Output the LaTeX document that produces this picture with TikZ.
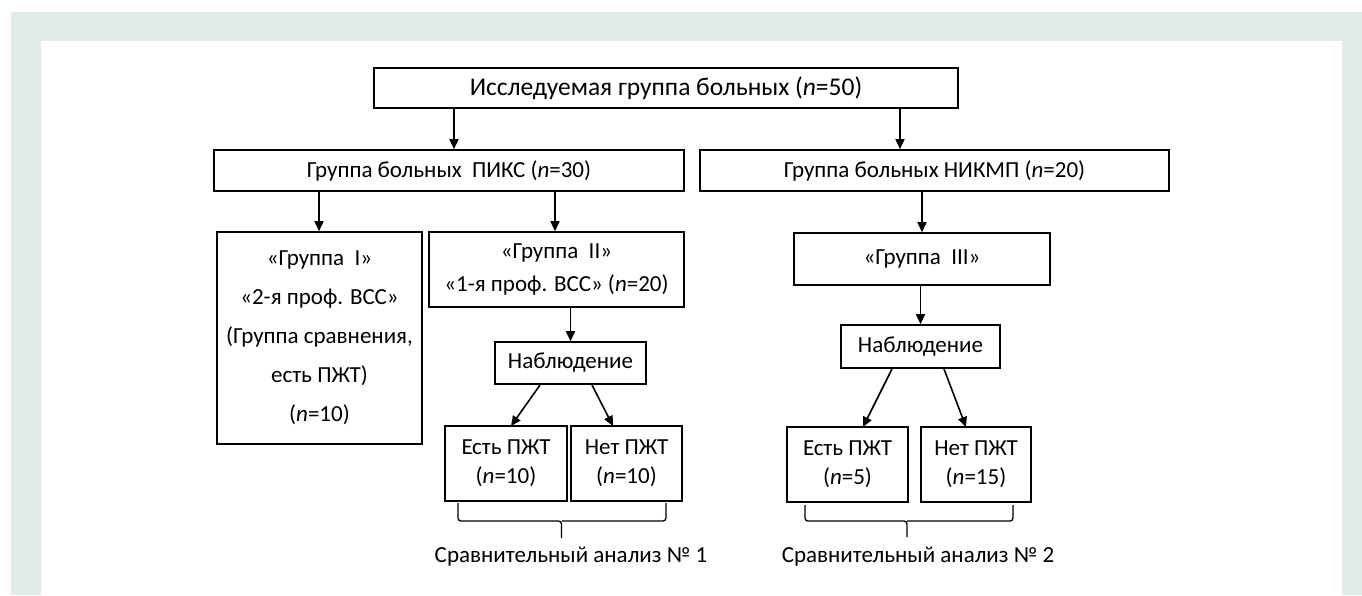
\documentclass[tikz,border=0pt]{standalone}
\usepackage{fontspec}
\setmainfont{Carlito}
\usetikzlibrary{arrows.meta}
\definecolor{frame}{RGB}{226,235,234}
\tikzset{
  box/.style={draw=black, line width=1.6pt, rectangle, inner sep=0pt, align=center,
    font=\fontsize{23}{27}\selectfont},
  arr/.style={line width=1.6pt, -{Triangle[length=10pt,width=9pt]}},
  brace/.style={line width=1.3pt, rounded corners=3pt},
  lbl/.style={inner sep=0pt, font=\fontsize{23}{27}\selectfont}
}
\begin{document}
\begin{tikzpicture}[x=1pt,y=-1pt]
\useasboundingbox (0,0) rectangle (1362,595);
\fill[frame] (11,12) rectangle (1362,595);
\fill[white] (41,41) rectangle (1342,595);

\node[box, minimum width=584pt, minimum height=40pt, font=\fontsize{25.5}{29}\selectfont] (top) at (666,88) {Исследуемая группа больных (\textit{n}=50)};
\node[box, minimum width=470pt, minimum height=41pt] (piks) at (449,170.5) {Группа больных\ \ ПИКС (\textit{n}=30)};
\node[box, minimum width=469pt, minimum height=41pt] (nikmp) at (934.5,170.5) {Группа больных НИКМП (\textit{n}=20)};

\node[box, minimum width=205pt, minimum height=212pt, font=\fontsize{23}{39}\selectfont] (g1) at (319.5,338) {«Группа\ \ I»\\«2-я проф. ВСС»\\(Группа сравнения,\\есть ПЖТ)\\(\textit{n}=10)};
\node[box, minimum width=255pt, minimum height=75pt, font=\fontsize{23}{33}\selectfont] (g2) at (556.5,269.5) {«Группа\ \ II»\\«1-я проф. ВСС» (\textit{n}=20)};
\node[box, minimum width=256pt, minimum height=52pt] (g3) at (922,259) {«Группа\ \ III»};

\node[box, minimum width=151pt, minimum height=42pt] (nab1) at (570.5,363) {Наблюдение};
\node[box, minimum width=159pt, minimum height=43pt] (nab2) at (920.5,346.5) {Наблюдение};

\node[box, minimum width=122pt, minimum height=75pt, font=\fontsize{23}{29}\selectfont] (e1) at (506,463.5) {Есть ПЖТ\\(\textit{n}=10)};
\node[box, minimum width=111pt, minimum height=75pt, font=\fontsize{23}{29}\selectfont] (n1) at (626.5,463.5) {Нет ПЖТ\\(\textit{n}=10)};
\node[box, minimum width=121pt, minimum height=75pt, font=\fontsize{23}{29}\selectfont] (e2) at (847.5,464.5) {Есть ПЖТ\\(\textit{n}=5)};
\node[box, minimum width=110pt, minimum height=75pt, font=\fontsize{23}{29}\selectfont] (n2) at (976,464.5) {Нет ПЖТ\\(\textit{n}=15)};

\node[lbl] (c1) at (571,557) {Сравнительный анализ № 1};
\node[lbl] (c2) at (918,557) {Сравнительный анализ № 2};

\coordinate (a1) at (454,0);
\coordinate (a2) at (900,0);
\coordinate (a3) at (319,0);
\coordinate (a4) at (555,0);
\draw[arr] (top.south -| a1) -- (piks.north -| a1);
\draw[arr] (top.south -| a2) -- (nikmp.north -| a2);
\draw[arr] (piks.south -| a3) -- (g1.north -| a3);
\draw[arr] (piks.south -| a4) -- (g2.north -| a4);
\draw[arr] (nikmp.south -| g3.north) -- (g3.north);
\draw[arr] (g2.south -| nab1.north) -- (nab1.north);
\draw[arr] (g3.south -| nab2.north) -- (nab2.north);

\coordinate (s1) at (540,385);
\coordinate (s2) at (592,385);
\coordinate (t1) at (511,426);
\coordinate (t2) at (613,426);
\draw[arr] (s1) -- (t1);
\draw[arr] (s2) -- (t2);
\coordinate (s3) at (892,369);
\coordinate (s4) at (944,369);
\coordinate (t3) at (863,427);
\coordinate (t4) at (966,427);
\draw[arr] (s3) -- (t3);
\draw[arr] (s4) -- (t4);

\draw[brace] (458,503) -- (458,521) -- (561.5,521) -- (561.5,538);
\draw[brace] (666,503) -- (666,521) -- (561.5,521);
\draw[brace] (805,505) -- (805,521) -- (907,521) -- (907,537);
\draw[brace] (1013,505) -- (1013,521) -- (907,521);
\end{tikzpicture}
\end{document}
